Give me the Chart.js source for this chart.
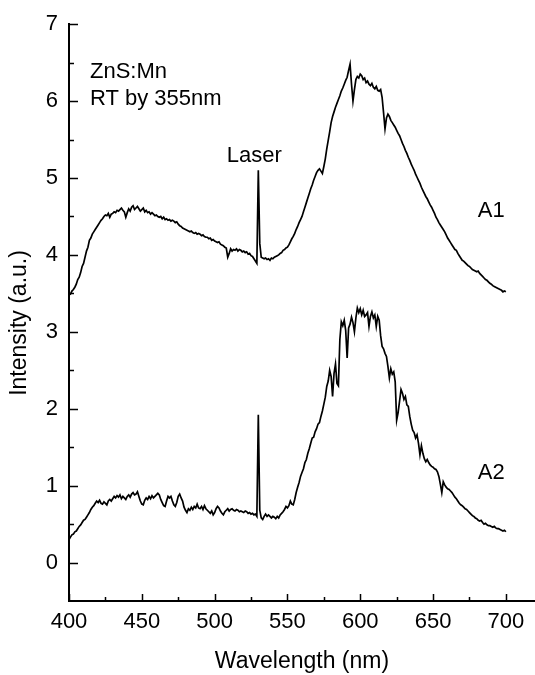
<!DOCTYPE html>
<html>
<head>
<meta charset="utf-8">
<title>ZnS:Mn photoluminescence</title>
<script src="https://cdn.jsdelivr.net/npm/chart.js@4.4.1/dist/chart.umd.min.js"></script>
<style>
  html, body { margin: 0; padding: 0; background: #fff; }
  #wrap { width: 535px; height: 675px; position: relative; }
</style>
</head>
<body>
<div id="wrap"><canvas id="plChart"></canvas></div>
<script>
// wavelength grid, 1 nm steps from 400 to 700 nm
const wavelengths = [];
for (let w = 400; w <= 700; w++) wavelengths.push(w);

// sample A1 spectrum (intensity, a.u.)
const a1 = [
    3.50, 3.49, 3.53, 3.55, 3.58, 3.62, 3.68, 3.71, 3.77, 3.85,
    3.89, 3.97, 4.05, 4.10, 4.19, 4.22, 4.27, 4.30, 4.33, 4.36,
    4.39, 4.42, 4.45, 4.47, 4.50, 4.52, 4.51, 4.54, 4.49, 4.53,
    4.54, 4.56, 4.55, 4.58, 4.57, 4.59, 4.61, 4.58, 4.56, 4.49,
    4.55, 4.60, 4.57, 4.62, 4.64, 4.59, 4.61, 4.63, 4.60, 4.57,
    4.59, 4.61, 4.56, 4.58, 4.55, 4.56, 4.53, 4.55, 4.53, 4.51,
    4.52, 4.50, 4.49, 4.50, 4.47, 4.49, 4.46, 4.47, 4.45, 4.46,
    4.44, 4.45, 4.44, 4.42, 4.43, 4.40, 4.38, 4.37, 4.35, 4.34,
    4.33, 4.32, 4.31, 4.30, 4.31, 4.29, 4.28, 4.29, 4.27, 4.28,
    4.27, 4.25, 4.26, 4.24, 4.23, 4.23, 4.21, 4.22, 4.19, 4.20,
    4.18, 4.17, 4.16, 4.17, 4.14, 4.13, 4.12, 4.10, 4.09, 3.97,
    4.02, 4.08, 4.05, 4.07, 4.06, 4.08, 4.05, 4.07, 4.06, 4.04,
    4.05, 4.03, 4.04, 4.01, 4.02, 3.99, 3.98, 3.95, 3.92, 3.89,
    5.10, 4.15, 3.97, 3.96, 3.95, 3.96, 3.94, 3.95, 3.93, 3.96,
    3.95, 3.97, 3.98, 3.99, 4.00, 4.02, 4.03, 4.06, 4.07, 4.09,
    4.10, 4.13, 4.17, 4.21, 4.24, 4.28, 4.33, 4.37, 4.42, 4.46,
    4.50, 4.56, 4.62, 4.68, 4.74, 4.80, 4.86, 4.91, 4.97, 5.02,
    5.07, 5.10, 5.12, 5.09, 5.06, 5.15, 5.25, 5.38, 5.49, 5.60,
    5.72, 5.80, 5.86, 5.92, 5.97, 6.02, 6.07, 6.13, 6.17, 6.22,
    6.27, 6.31, 6.40, 6.48, 6.22, 6.00, 6.15, 6.28, 6.32, 6.30,
    6.35, 6.33, 6.28, 6.30, 6.24, 6.26, 6.22, 6.20, 6.23, 6.18,
    6.16, 6.19, 6.14, 6.13, 6.15, 6.05, 5.85, 5.64, 5.78, 5.83,
    5.80, 5.75, 5.72, 5.69, 5.66, 5.62, 5.58, 5.55, 5.50, 5.45,
    5.41, 5.36, 5.32, 5.27, 5.23, 5.18, 5.14, 5.10, 5.05, 5.01,
    4.97, 4.93, 4.88, 4.84, 4.80, 4.76, 4.73, 4.69, 4.65, 4.62,
    4.58, 4.54, 4.49, 4.46, 4.42, 4.39, 4.36, 4.33, 4.30, 4.26,
    4.22, 4.19, 4.16, 4.13, 4.10, 4.07, 4.06, 4.02, 3.99, 3.96,
    3.93, 3.92, 3.90, 3.88, 3.86, 3.85, 3.83, 3.81, 3.80, 3.79,
    3.78, 3.79, 3.76, 3.74, 3.72, 3.70, 3.68, 3.67, 3.65, 3.63,
    3.62, 3.60, 3.59, 3.58, 3.57, 3.56, 3.55, 3.54, 3.52, 3.53,
    3.52
];

// sample A2 spectrum (intensity, a.u.)
const a2 = [
    0.30, 0.33, 0.36, 0.37, 0.40, 0.41, 0.44, 0.47, 0.49, 0.52,
    0.55, 0.56, 0.59, 0.62, 0.65, 0.69, 0.72, 0.74, 0.77, 0.80,
    0.78, 0.81, 0.77, 0.76, 0.79, 0.77, 0.75, 0.80, 0.82, 0.80,
    0.83, 0.86, 0.84, 0.87, 0.85, 0.88, 0.83, 0.86, 0.84, 0.82,
    0.86, 0.88, 0.85, 0.89, 0.91, 0.88, 0.89, 0.92, 0.86, 0.80,
    0.76, 0.75, 0.81, 0.84, 0.82, 0.86, 0.83, 0.87, 0.84, 0.86,
    0.88, 0.90, 0.88, 0.82, 0.78, 0.74, 0.73, 0.80, 0.86, 0.84,
    0.86, 0.80, 0.75, 0.73, 0.78, 0.86, 0.89, 0.84, 0.80, 0.72,
    0.68, 0.65, 0.70, 0.68, 0.72, 0.69, 0.73, 0.71, 0.76, 0.71,
    0.70, 0.73, 0.69, 0.74, 0.70, 0.68, 0.66, 0.64, 0.67, 0.62,
    0.65, 0.70, 0.73, 0.71, 0.67, 0.64, 0.62, 0.66, 0.68, 0.70,
    0.67, 0.69, 0.70, 0.68, 0.67, 0.69, 0.68, 0.66, 0.67, 0.66,
    0.65, 0.67, 0.66, 0.64, 0.65, 0.63, 0.64, 0.62, 0.63, 0.60,
    1.92, 0.68, 0.58, 0.56, 0.60, 0.63, 0.60, 0.62, 0.60, 0.58,
    0.60, 0.59, 0.57, 0.60, 0.58, 0.62, 0.64, 0.66, 0.69, 0.73,
    0.71, 0.74, 0.80, 0.76, 0.75, 0.82, 0.91, 0.98, 1.04, 1.12,
    1.17, 1.22, 1.30, 1.34, 1.42, 1.48, 1.55, 1.62, 1.63, 1.70,
    1.74, 1.80, 1.82, 1.90, 1.97, 2.06, 2.15, 2.29, 2.36, 2.50,
    2.42, 2.16, 2.46, 2.58, 2.33, 2.30, 2.90, 3.13, 3.08, 3.15,
    3.02, 2.66, 3.05, 3.10, 3.19, 3.12, 3.00, 3.18, 3.31, 3.25,
    3.30, 3.22, 3.28, 3.20, 3.22, 3.25, 3.07, 3.20, 3.26, 3.18,
    3.22, 3.07, 3.20, 3.15, 2.95, 2.81, 2.78, 2.72, 2.68, 2.55,
    2.40, 2.52, 2.45, 2.48, 2.35, 1.85, 1.95, 2.10, 2.25, 2.20,
    2.12, 2.16, 2.05, 2.03, 1.90, 1.80, 1.72, 1.69, 1.62, 1.66,
    1.55, 1.40, 1.52, 1.42, 1.35, 1.31, 1.34, 1.30, 1.27, 1.25,
    1.24, 1.22, 1.21, 1.18, 1.12, 1.02, 0.91, 1.05, 1.01, 0.98,
    0.96, 0.95, 0.93, 0.91, 0.88, 0.85, 0.83, 0.80, 0.77, 0.75,
    0.74, 0.72, 0.70, 0.69, 0.67, 0.65, 0.63, 0.61, 0.60, 0.58,
    0.57, 0.55, 0.54, 0.55, 0.52, 0.50, 0.51, 0.49, 0.48, 0.48,
    0.47, 0.46, 0.47, 0.45, 0.44, 0.44, 0.43, 0.42, 0.41, 0.42,
    0.40
];

const xTicks = [400, 450, 500, 550, 600, 650, 700];
const yTicks = [0, 1, 2, 3, 4, 5, 6, 7];

// text placed inside the plot, anchored in data units (left edge, baseline)
const notes = [
    { text: 'ZnS:Mn', x: 414.4, y: 6.30 },
    { text: 'RT by 355nm', x: 414.4, y: 5.95 },
    { text: 'Laser', x: 508.4, y: 5.21 },
    { text: 'A1', x: 680.7, y: 4.49 },
    { text: 'A2', x: 680.7, y: 1.08 }
];

const FONT = "'Liberation Sans', Arial, Helvetica, sans-serif";

function toPoints(ys) {
    return wavelengths.map((w, i) => ({ x: w, y: ys[i] }));
}

// inward major/minor ticks, y axis title and in-plot labels
const decorations = {
    id: 'decorations',
    afterDraw(chart) {
        const ctx = chart.ctx;
        const xs = chart.scales.x;
        const ys = chart.scales.y;
        const area = chart.chartArea;
        ctx.save();
        ctx.strokeStyle = '#000';
        ctx.lineWidth = 1.5;
        ctx.beginPath();
        for (let v = 400; v <= 700; v += 25) {
            const px = Math.round(xs.getPixelForValue(v)) + 0.5;
            const len = (v % 50 === 0) ? 7 : 4;
            ctx.moveTo(px, area.bottom);
            ctx.lineTo(px, area.bottom - len);
        }
        for (let v = 0; v <= 7; v += 0.5) {
            const py = Math.round(ys.getPixelForValue(v)) + 0.5;
            const len = Number.isInteger(v) ? 9 : 5;
            ctx.moveTo(area.left, py);
            ctx.lineTo(area.left + len, py);
        }
        ctx.stroke();

        ctx.fillStyle = '#000';
        ctx.font = '22px ' + FONT;
        ctx.textAlign = 'left';
        ctx.textBaseline = 'alphabetic';
        notes.forEach(n => {
            ctx.fillText(n.text, xs.getPixelForValue(n.x), ys.getPixelForValue(n.y));
        });

        ctx.font = '23px ' + FONT;
        ctx.translate(20, 323);
        ctx.rotate(-Math.PI / 2);
        ctx.textAlign = 'center';
        ctx.textBaseline = 'middle';
        ctx.fillText('Intensity (a.u.)', 0, 0);
        ctx.restore();
    }
};

new Chart('plChart', {
    type: 'line',
    data: {
        datasets: [{
            label: 'A1',
            data: toPoints(a1),
            borderColor: '#000',
            borderWidth: 1.7,
            pointRadius: 0,
            tension: 0
        }, {
            label: 'A2',
            data: toPoints(a2),
            borderColor: '#000',
            borderWidth: 1.7,
            pointRadius: 0,
            tension: 0
        }]
    },
    options: {
        responsive: true,
        maintainAspectRatio: false,
        animation: false,
        devicePixelRatio: 1,
        layout: { padding: { top: 23, right: 0, bottom: 0, left: 0 } },
        plugins: {
            legend: { display: false },
            tooltip: { enabled: false }
        },
        scales: {
            x: {
                type: 'linear',
                min: 400,
                max: 720,
                afterBuildTicks: scale => { scale.ticks = xTicks.map(v => ({ value: v })); },
                afterFit: scale => { scale.height = 74; },
                grid: { display: false, drawTicks: false },
                border: { display: true, color: '#000', width: 2 },
                ticks: {
                    padding: 8,
                    color: '#000',
                    maxRotation: 0,
                    font: { family: FONT, size: 22 }
                },
                title: {
                    display: true,
                    text: 'Wavelength (nm)',
                    color: '#000',
                    padding: { top: 0, bottom: 0 },
                    font: { family: FONT, size: 23 }
                }
            },
            y: {
                type: 'linear',
                min: -0.5,
                max: 7,
                afterBuildTicks: scale => { scale.ticks = yTicks.map(v => ({ value: v })); },
                afterFit: scale => { scale.width = 69; },
                grid: { display: false, drawTicks: false },
                border: { display: true, color: '#000', width: 2 },
                ticks: {
                    padding: 11,
                    color: '#000',
                    font: { family: FONT, size: 22 }
                }
            }
        }
    },
    plugins: [decorations]
});
</script>
</body>
</html>
